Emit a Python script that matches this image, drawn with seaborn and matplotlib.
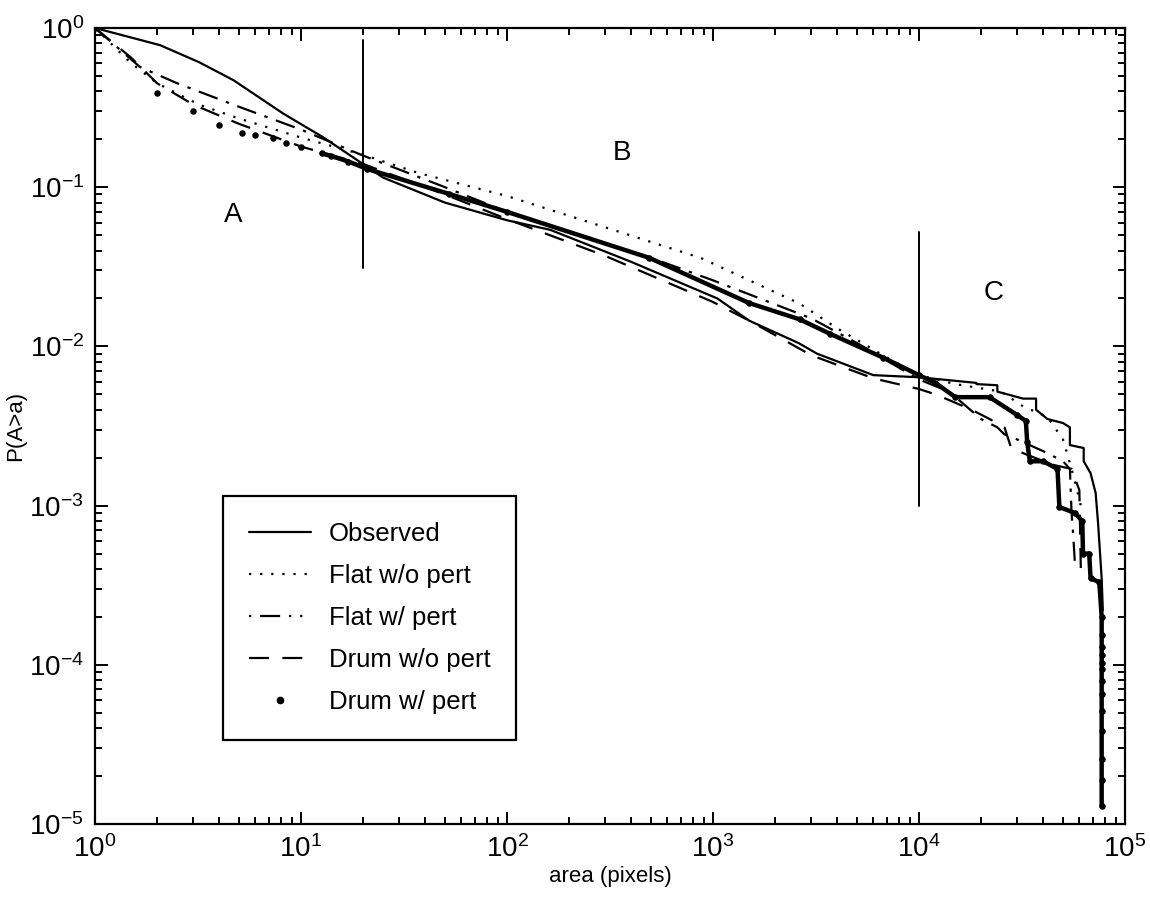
import numpy as np
import pandas as pd
import matplotlib
matplotlib.use("Agg")
import matplotlib.pyplot as plt
from matplotlib.lines import Line2D
import seaborn as sns

# ---------------- data ----------------
obs_x = [1, 2.07, 3.2, 4.7, 8.2, 12.8, 21, 25, 50, 100, 162, 400, 1050, 1500, 2600, 3200, 6000,
         10000, 19000, 19000, 24000, 24000, 32000, 37000, 37000, 42000, 50000, 54000, 54000,
         63000, 63000, 68000, 72000, 74000, 77000, 78000]
obs_y = [1, 0.78, 0.61, 0.47, 0.29, 0.206, 0.134, 0.115, 0.080, 0.062, 0.054, 0.034, 0.020, 0.0145,
         0.0105, 0.009, 0.0066, 0.0064, 0.0059, 0.0058, 0.0057, 0.0052, 0.0047, 0.0047, 0.0040,
         0.0035, 0.0033, 0.0031, 0.0024, 0.0023, 0.0019, 0.0016, 0.0012, 0.00077, 0.00035, 0.00022]

flat_x = [1, 1.5, 2, 3.2, 5, 10, 20, 37, 100, 234, 870, 2630, 4000, 7000, 10000, 15000, 25000,
          32000, 42000, 50000, 55000, 60000, 62000]
flat_y = [1, 0.60, 0.45, 0.33, 0.27, 0.205, 0.16, 0.123, 0.088, 0.062, 0.036, 0.0186, 0.013,
          0.0085, 0.0066, 0.0058, 0.0052, 0.0042, 0.0036, 0.0026, 0.0017, 0.0011, 0.0009]

flatp_x = [1, 1.65, 2.5, 5, 10, 20, 50, 100, 500, 1000, 3000, 5000, 10000, 14000, 20000, 24000,
           26000, 30000, 40000, 50000, 54000, 55000, 56000, 57000]
flatp_y = [1, 0.57, 0.45, 0.32, 0.23, 0.158, 0.10, 0.070, 0.036, 0.026, 0.015, 0.0105, 0.0062,
           0.0052, 0.0035, 0.0031, 0.0028, 0.0026, 0.0022, 0.0019, 0.0017, 0.0009, 0.00066, 0.00045]

drum_x = [1, 1.5, 2, 3, 5, 10, 20, 50, 100, 300, 1000, 1500, 3000, 6000, 10000, 12000, 14000,
          18000, 22000, 26000, 28000, 33000, 45000, 55000, 60000, 61000]
drum_y = [1, 0.65, 0.45, 0.33, 0.25, 0.18, 0.14, 0.090, 0.063, 0.037, 0.019, 0.0145, 0.0088,
          0.0063, 0.0054, 0.0050, 0.0046, 0.0040, 0.0035, 0.0031, 0.0023, 0.0021, 0.0018,
          0.0017, 0.00125, 0.0004]

drump_x = [1, 2, 3, 4, 5.2, 6, 7.3, 8.5, 10, 12.6, 14, 17, 21, 52, 100, 490, 1500, 2630, 3700,
           6700, 10000, 12000, 15000, 22000, 30000, 33000, 33500, 34500, 40000, 47000, 48000,
           57000, 62000, 62500, 67000, 68000, 75000,
           77000, 77000, 77000, 77000, 77000, 77000, 77000, 77000, 77000, 77000, 77000, 77000, 77000]
drump_y = [1, 0.39, 0.30, 0.245, 0.22, 0.213, 0.205, 0.19, 0.18, 0.163, 0.157, 0.145, 0.130,
           0.091, 0.070, 0.036, 0.0187, 0.0148, 0.012, 0.0085, 0.0066, 0.0059, 0.0048, 0.0048,
           0.0037, 0.0034, 0.0025, 0.0019, 0.0019, 0.0017, 0.00098, 0.0009, 0.0008, 0.0005,
           0.0005, 0.00035, 0.00033,
           2.0e-4, 1.55e-4, 1.3e-4, 1.15e-4, 1.03e-4, 9.4e-5, 7.9e-5, 6.6e-5, 5.1e-5, 3.85e-5,
           2.57e-5, 1.9e-5, 1.3e-5]

series_names = ["Observed", "Flat w/o pert", "Flat w/ pert", "Drum w/o pert", "Drum w/ pert"]

# region boundaries
bound_x = [20, 10000]
bound_ylo = [0.031, 0.001]
bound_yhi = [0.84, 0.052]

region_labels = ["A", "B", "C"]
region_x = [4.7, 362, 23000]
region_y = [0.067, 0.164, 0.0215]

# ---------------- plotting ----------------
sns.set_style("ticks")
plt.rcParams["font.family"] = ["Liberation Sans", "DejaVu Sans"]
plt.rcParams["mathtext.fontset"] = "custom"
plt.rcParams["mathtext.rm"] = "Liberation Sans"
plt.rcParams["mathtext.it"] = "Liberation Sans"
plt.rcParams["text.color"] = "black"
plt.rcParams["axes.labelcolor"] = "black"
plt.rcParams["xtick.color"] = "black"
plt.rcParams["ytick.color"] = "black"

fig = plt.figure(figsize=(11.5, 9), dpi=100)
ax = fig.add_axes([0.0826, 0.0844, 0.8957, 0.8845])

def df(x, y):
    return pd.DataFrame({"x": x, "y": y})

k = dict(x="x", y="y", sort=False, estimator=None, ax=ax, color="black")
sns.lineplot(data=df(obs_x, obs_y), linewidth=1.6, **k)
sns.lineplot(data=df(flat_x, flat_y), linewidth=1.6, **k).lines[-1].set_linestyle((0, (1, 4)))
sns.lineplot(data=df(flatp_x, flatp_y), linewidth=1.6, **k).lines[-1].set_linestyle((0, (9, 4, 1.5, 4)))
sns.lineplot(data=df(drum_x, drum_y), linewidth=1.6, **k).lines[-1].set_linestyle((0, (9, 6)))

# Drum w/ pert: heavy trace where points are dense, dots everywhere
dp = df(drump_x, drump_y)
dense = dp[dp["x"] >= 12]
sns.lineplot(data=dense, linewidth=3.2, **k)
sns.scatterplot(data=dp, x="x", y="y", ax=ax, color="black", s=22, edgecolor="black", linewidth=0)

for bx, lo, hi in zip(bound_x, bound_ylo, bound_yhi):
    ax.plot([bx, bx], [lo, hi], color="black", linewidth=1.4)

for t, tx, ty in zip(region_labels, region_x, region_y):
    ax.text(tx, ty, t, fontsize=20, ha="center", va="center")

ax.set_xscale("log")
ax.set_yscale("log")
ax.set_xlim(1, 1e5)
ax.set_ylim(1e-5, 1)
ax.set_xlabel("area (pixels)", fontsize=16, labelpad=2)
ax.set_ylabel("P(A>a)", fontsize=16, labelpad=2)

ax.tick_params(which="both", direction="in", top=True, right=True, width=1.4)
ax.tick_params(which="major", length=9, labelsize=20, pad=8)
ax.tick_params(which="minor", length=5)
for s in ax.spines.values():
    s.set_linewidth(1.6)
    s.set_color("black")
    s.set_visible(True)

handles = [
    Line2D([], [], color="black", lw=1.6, ls="-"),
    Line2D([], [], color="black", lw=1.6, ls=(0, (1, 4))),
    Line2D([], [], color="black", lw=1.6, ls=(0, (1, 4, 9, 4, 1, 4))),
    Line2D([], [], color="black", lw=1.6, ls=(0, (9, 6))),
    Line2D([], [], color="black", lw=0, marker=".", markersize=9),
]
leg = ax.legend(handles, series_names, loc="lower left", bbox_to_anchor=(0.112, 0.09),
                fontsize=18.5, frameon=True, fancybox=False, edgecolor="black", framealpha=1,
                handlelength=2.4, labelspacing=0.7, borderpad=1.0, handletextpad=0.7)
leg.get_frame().set_linewidth(1.6)

fig.savefig("out.png", dpi=100)
